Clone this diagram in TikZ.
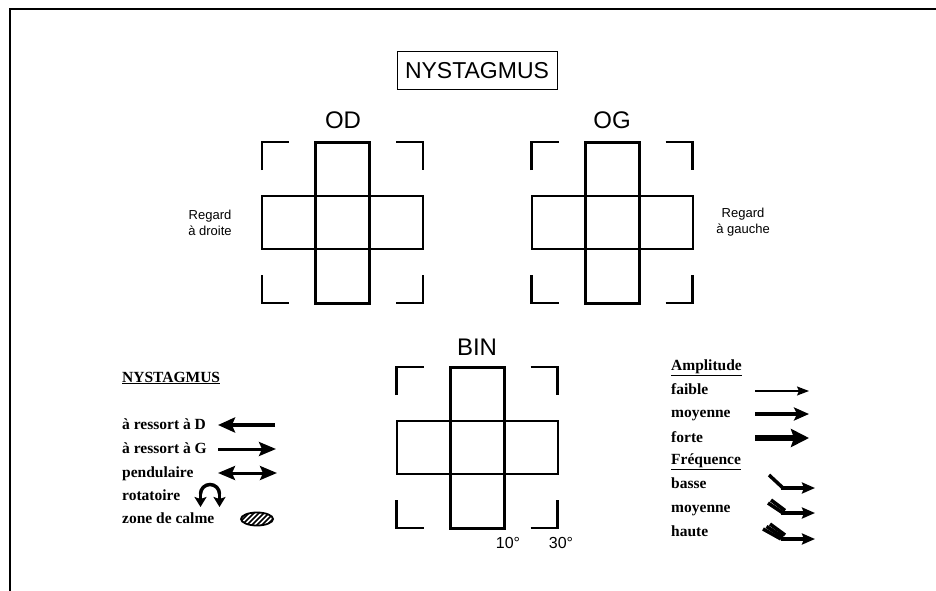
\documentclass[tikz,border=0pt]{standalone}
\usepackage{fontspec}
\setmainfont{Liberation Serif}
\newfontfamily\arialfont{Liberation Sans}
\usetikzlibrary{arrows.meta}
\tikzset{
  eyegrid/.pic={
    \draw[line width=2pt] (-80.5,-26.5) rectangle (80.5,26.5);
    \draw[line width=3pt] (-27,-80.5) rectangle (27,80.5);
    \draw[line width=2.5pt] (-80.5,-52.5) -- (-80.5,-80.5) -- (-53.5,-80.5);
    \draw[line width=2.5pt] (53.5,-80.5) -- (80.5,-80.5) -- (80.5,-52.5);
    \draw[line width=2.5pt] (-80.5,52.5) -- (-80.5,80.5) -- (-53.5,80.5);
    \draw[line width=2.5pt] (53.5,80.5) -- (80.5,80.5) -- (80.5,52.5);
  },
  sanslabel/.style={font=\arialfont\fontsize{24}{28}\selectfont, inner sep=0pt},
  smallsans/.style={font=\arialfont\fontsize{13}{16}\selectfont, align=center, inner sep=0pt},
  degsans/.style={font=\arialfont\fontsize{16}{19}\selectfont, inner sep=0pt},
  legtext/.style={font=\bfseries\fontsize{15.5}{18}\selectfont, anchor=base west, inner sep=0pt},
  frame/.style={line width=2pt},
  freqline/.style={line width=3.5pt},
  freqtip/.style={-{Stealth[length=13pt,width=11pt,inset=2pt]}},
}
\begin{document}
\begin{tikzpicture}[x=1pt,y=-1pt]
\useasboundingbox (0,0) rectangle (936,591);
% frame
\draw[frame] (936,9) -- (10,9) -- (10,591);
% title
\node[draw, line width=1pt, minimum width=160pt, minimum height=38pt,
      font=\arialfont\fontsize{23}{27}\selectfont, inner sep=0pt] (title) at (477,71) {NYSTAGMUS};
% grids
\pic at (342.5,222.5) {eyegrid};
\pic at (612,222.5) {eyegrid};
\pic at (477,447.5) {eyegrid};
\node[sanslabel] (od) at (343,120) {OD};
\node[sanslabel] (og) at (612,120) {OG};
\node[sanslabel] (bin) at (477,347) {BIN};
\node[smallsans] (rd) at (210,222.5) {Regard\\à droite};
\node[smallsans] (rg) at (743,222.5) {Regard\\à gauche};
\node[degsans] (d10) at (508,543) {10°};
\node[degsans] (d30) at (561,543) {30°};
% left legend
\node[legtext] (lh) at (122,382) {\underline{NYSTAGMUS}};
\node[legtext] (l1) at (122,429) {à ressort à D};
\node[legtext] (l2) at (122,453) {à ressort à G};
\node[legtext] (l3) at (122,477) {pendulaire};
\node[legtext] (l4) at (122,500) {rotatoire};
\node[legtext] (l5) at (122,523) {zone de calme};
\coordinate (a1s) at (275,425); \coordinate (a1e) at (218,425);
\draw[line width=4pt, -{Stealth[length=17pt,width=15pt,inset=3pt]}] (a1s) -- (a1e);
\coordinate (a2s) at (218,449); \coordinate (a2e) at (276,449);
\draw[line width=3pt, -{Stealth[length=17pt,width=14pt,inset=3pt]}] (a2s) -- (a2e);
\coordinate (a3s) at (218,473); \coordinate (a3e) at (277,473);
\draw[line width=3pt, {Stealth[length=17pt,width=14pt,inset=3pt]}-{Stealth[length=17pt,width=14pt,inset=3pt]}] (a3s) -- (a3e);
% rotatory symbol
\draw[line width=3.5pt] (200.5,494) arc[start angle=180, end angle=360, radius=9.5];
\draw[line width=3.5pt, -{Stealth[length=10pt,width=12pt,inset=2pt]}] (200.5,493) -- (200.5,507);
\draw[line width=3.5pt, -{Stealth[length=10pt,width=12pt,inset=2pt]}] (219.5,493) -- (219.5,507);
% zone de calme
\begin{scope}
  \clip (257,519) ellipse [x radius=16, y radius=6.5];
  \foreach \i in {-24,-19,...,24}
    \draw[line width=1.6pt] (257+\i-9,519+9) -- (257+\i+9,519-9);
\end{scope}
\draw[line width=1.8pt] (257,519) ellipse [x radius=16, y radius=6.5];
% right legend
\node[legtext] (rh1) at (671,370) {\underline{Amplitude}};
\node[legtext] (r1) at (671,394) {faible};
\node[legtext] (r2) at (671,417) {moyenne};
\node[legtext] (r3) at (671,442) {forte};
\node[legtext] (rh2) at (671,464) {\underline{Fréquence}};
\node[legtext] (r4) at (671,488) {basse};
\node[legtext] (r5) at (671,512) {moyenne};
\node[legtext] (r6) at (671,536) {haute};
\draw[line width=1.5pt, -{Stealth[length=12pt,width=9pt,inset=2pt]}] (755,391) -- (809,391);
\draw[line width=3.5pt, -{Stealth[length=15pt,width=13pt,inset=3pt]}] (755,414) -- (809,414);
\draw[line width=6pt, -{Stealth[length=18pt,width=18pt,inset=3pt]}] (755,438) -- (809,438);
% frequency symbols
\draw[freqline, freqtip] (781,488) -- (815,488);
\draw[freqline] (769,475) -- (783,488);
\draw[freqline, freqtip] (781,513) -- (815,513);
\draw[freqline] (768,503) -- (783,513);
\draw[freqline] (771,500) -- (785,510.5);
\draw[freqline, freqtip] (781,539) -- (815,539);
\draw[freqline] (763,529) -- (781,539);
\draw[freqline] (766.5,526.5) -- (783,537);
\draw[freqline] (770,524) -- (785,535);
\end{tikzpicture}
\end{document}
